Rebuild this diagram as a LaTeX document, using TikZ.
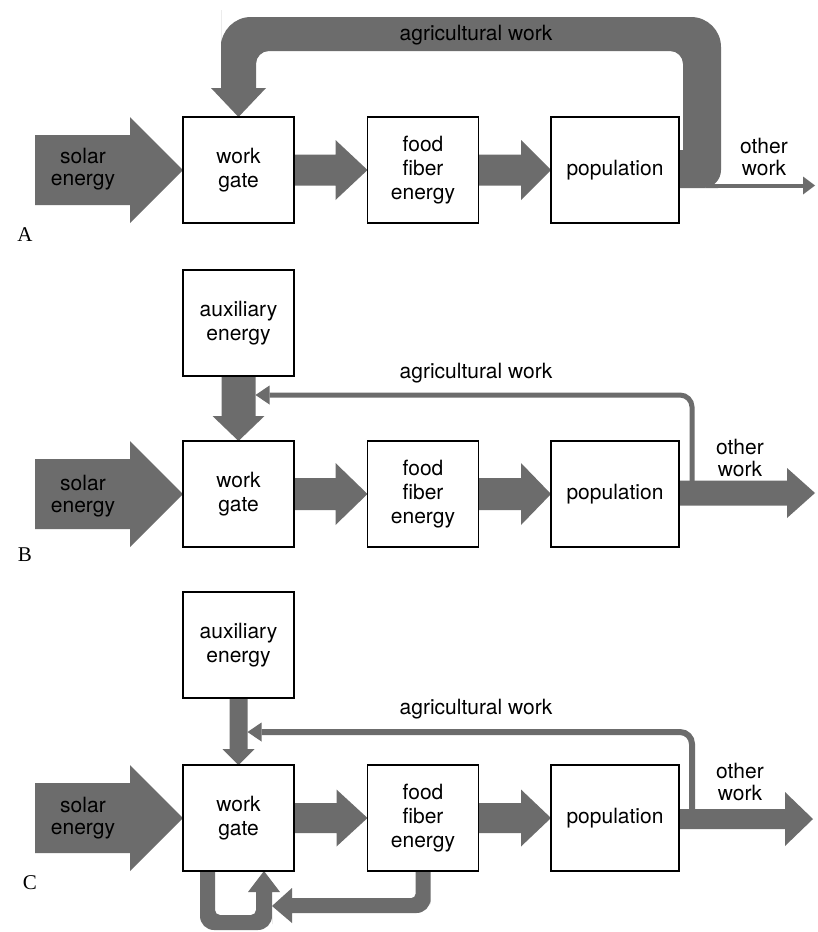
\documentclass[tikz,border=0pt]{standalone}
\usepackage{fontspec}
\setmainfont{TeX Gyre Heros}
\newfontfamily\panelfont{Liberation Serif}
\usetikzlibrary{calc,arrows.meta,backgrounds}
\definecolor{flowgray}{RGB}{108,108,108}
\newcommand\boxfont{\fontsize{21}{24}\selectfont}
\newcommand\txtfont{\fontsize{21}{22}\selectfont}
\tikzset{
  flow/.style={fill=flowgray},
  box/.style={draw=black, line width=1.3pt, fill=white, minimum width=111pt,
    minimum height=106pt, inner sep=0pt, outer sep=0pt, align=center, font=\boxfont},
  txt/.style={inner sep=0pt, align=center, font=\txtfont},
  plabel/.style={inner sep=0pt, font=\panelfont\fontsize{21}{22}\selectfont},
  agline/.style={draw=flowgray, line width=5pt, rounded corners=12pt,
    -{Triangle[length=14pt,width=19pt,line width=0pt]}},
  thinflow/.style={draw=flowgray, line width=4pt,
    -{Triangle[length=12pt,width=18pt,line width=0pt]}}
}
% horizontal flow arrow: #1 start, #2 tip, #3 shaft half width, #4 head half width, #5 head length
\newcommand\flowright[5]{\fill[flow] let \p1=(#1),\p2=(#2) in
  (\x1,\y2+#3pt) -- (\x2-#5pt,\y2+#3pt) -- (\x2-#5pt,\y2+#4pt) -- (\x2,\y2) --
  (\x2-#5pt,\y2-#4pt) -- (\x2-#5pt,\y2-#3pt) -- (\x1,\y2-#3pt) -- cycle;}
% downward flow arrow
\newcommand\flowdown[5]{\fill[flow] let \p1=(#1),\p2=(#2) in
  (\x2-#3pt,\y1) -- (\x2-#3pt,\y2+#5pt) -- (\x2-#4pt,\y2+#5pt) -- (\x2,\y2) --
  (\x2+#4pt,\y2+#5pt) -- (\x2+#3pt,\y2+#5pt) -- (\x2+#3pt,\y1) -- cycle;}
\begin{document}
\begin{tikzpicture}[x=1pt,y=-1pt]
\useasboundingbox (0,0) rectangle (817,932);

% ---------------- Panel A ----------------
\node[box] (gateA) at (238.5,170) {work\\gate};
\node[box] (foodA) at (423,170) {food\\fiber\\energy};
\node[box, minimum width=128pt] (popA) at (615,170) {population};
\coordinate (solA) at (35,170);
\coordinate (owA0) at (706,185.5);
\coordinate (owA1) at (815,185.5);
\node[txt] (agA) at (476,35) {agricultural work};
\node[txt] (otherA) at (764,157) {other\\work};
\node[txt] (solarA) at (83,169.5) {solar\\energy};
\node[plabel] (labA) at (25,235) {A};

% ---------------- Panel B ----------------
\node[box] (auxB) at (238.5,323) {auxiliary\\energy};
\node[box] (gateB) at (238.5,494) {work\\gate};
\node[box] (foodB) at (423,494) {food\\fiber\\energy};
\node[box, minimum width=128pt] (popB) at (615,494) {population};
\coordinate (solB) at (35,494);
\coordinate (owB) at (815,493);
\coordinate (agB0) at ($(popB.east)+(13,-10)$);
\coordinate (agB1) at ($(auxB.south)+(17,19)$);
\node[txt] (agBt) at (476,373) {agricultural work};
\node[txt] (otherB) at (740,458) {other\\work};
\node[txt] (solarB) at (83,496) {solar\\energy};
\node[plabel] (labB) at (25,555) {B};

% ---------------- Panel C ----------------
\node[box] (auxC) at (238.5,645) {auxiliary\\energy};
\node[box] (gateC) at (238.5,818) {work\\gate};
\node[box] (foodC) at (423,818) {food\\fiber\\energy};
\node[box, minimum width=128pt] (popC) at (615,818) {population};
\coordinate (solC) at (35,818);
\coordinate (owC) at (813,819);
\coordinate (agC0) at ($(popC.east)+(13,-8)$);
\coordinate (agC1) at ($(auxC.south)+(9,34)$);
\node[txt] (agCt) at (476,709) {agricultural work};
\node[txt] (otherC) at (740,782) {other\\work};
\node[txt] (solarC) at (83,818) {solar\\energy};
\node[plabel] (labC) at (30,883) {C};

\begin{pgfonlayer}{background}
\fill[white] (0,0) rectangle (817,932);
% A
\flowright{solA}{gateA.west}{35}{53}{53}
\flowright{gateA.east}{foodA.west}{15.5}{30}{32}
\flowright{foodA.east}{popA.west}{15.5}{30}{30}
\fill[flow] ($(popA.east)+(0,-20)$) -- ($(popA.east)+(0,18)$) -- (690,188)
  [rounded corners=18pt] -- (700,188) -- (721,188) -- (721,120)
  [rounded corners=30pt] -- (721,100) -- (721,17) -- (221,17) -- (221,40)
  [sharp corners] -- (221,88) -- (211,88) -- (gateA.north) -- (266,88) -- (256,88) -- (256,70)
  [rounded corners=13pt] -- (256,60) -- (256,51) -- (683,51) -- (683,60)
  [sharp corners] -- (683,70) -- (683,150) -- cycle;
\draw[thinflow] (owA0) -- (owA1);
% B
\flowright{solB}{gateB.west}{35}{53}{53}
\flowright{gateB.east}{foodB.west}{16}{31}{32}
\flowright{foodB.east}{popB.west}{16}{31}{30}
\flowright{popB.east}{owB}{12.5}{25}{28}
\flowdown{auxB.south}{gateB.north}{17}{26}{25}
\draw[agline] (agB0) |- (agB1);
% C
\flowright{solC}{gateC.west}{35}{53}{53}
\flowright{gateC.east}{foodC.west}{15}{28.5}{31}
\flowright{foodC.east}{popC.west}{15}{28.5}{30}
\flowright{popC.east}{owC}{10}{27}{28}
\flowdown{auxC.south}{gateC.north}{9}{16}{16}
\draw[agline, line width=6pt] (agC0) |- (agC1);
% C bottom loops
\fill[flow] (200,871) -- (200,880)
  [rounded corners=14pt] -- (200,890) -- (200,930) -- (272,930) -- (272,910)
  [sharp corners] -- (272,892) -- (280,892) -- ($(gateC.south)+(25.5,0)$) -- (248,892) -- (256,892) -- (256,900)
  [rounded corners=5pt] -- (256,905) -- (256,915) -- (215,915) -- (215,905)
  [sharp corners] -- (215,895) -- (215,871) -- cycle;
\fill[flow] ($(foodC.south)+(7.5,0)$) -- (430.5,880)
  [rounded corners=14pt] -- (430.5,890) -- (430.5,913) -- (400,913)
  [sharp corners] -- (380,913) -- (292,913) -- (292,923) -- (272,906) -- (292,888) -- (292,898) -- (400,898)
  [rounded corners=4pt] -- (405,898) -- (415.5,898) -- (415.5,893)
  [sharp corners] -- (415.5,885) -- ($(foodC.south)+(-7.5,0)$) -- cycle;
\end{pgfonlayer}
\end{tikzpicture}
\end{document}
